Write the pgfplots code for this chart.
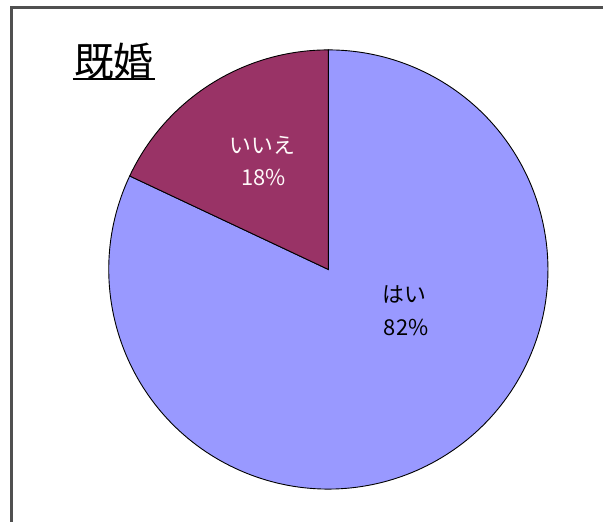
\documentclass[border=0pt]{standalone}
\usepackage{pgfplots}
\pgfplotsset{compat=1.18}
\usepackage{pgfplotstable}
\usepackage{fontspec}
\setmainfont{Noto Sans CJK JP}
\definecolor{hai}{HTML}{9999FF}
\definecolor{iie}{HTML}{993366}
\definecolor{framec}{HTML}{505050}

\pgfplotstableread{
label value
hai 82
iie 18
}\piedata

\begin{document}
\begin{tikzpicture}
\pgfplotstablegetelem{0}{value}\of\piedata \let\vhai\pgfplotsretval
\pgfplotstablegetelem{1}{value}\of\piedata \let\viie\pgfplotsretval
\pgfmathsetmacro\aiie{90+3.6*\viie}
\pgfmathsetmacro\ahai{\aiie+3.6*\vhai}
\path (0,0) rectangle (604bp,523bp);
\begin{axis}[x=1bp,y=1bp,xmin=0,xmax=604,ymin=0,ymax=523,hide axis,clip=false,anchor=origin,at={(0,0)}]
\filldraw[fill=hai, draw=black, line width=0.9bp] (axis cs:329,253) -- ++(\aiie:220bp) arc[start angle=\aiie, end angle=\ahai, radius=220bp] -- cycle;
\filldraw[fill=iie, draw=black, line width=0.9bp] (axis cs:329,253) -- ++(90:220bp) arc[start angle=90, end angle=\aiie, radius=220bp] -- cycle;
\node[font=\fontsize{22}{26}\selectfont, text=white!92!pink] at (axis cs:263,377) {いいえ};
\node[font=\fontsize{22}{26}\selectfont, text=white!92!pink] at (axis cs:264,345) {\viie\%};
\node[font=\fontsize{22}{26}\selectfont, text=black] at (axis cs:405,228) {はい};
\node[font=\fontsize{22}{26}\selectfont, text=black] at (axis cs:407,195) {\vhai\%};
\node[font=\fontsize{40}{48}\selectfont] at (axis cs:114,461) {既婚};
\draw[line width=2.2bp] (axis cs:73,444) -- (axis cs:155,444);
\draw[framec, line width=2.4bp] (axis cs:11.5,0) -- (axis cs:11.5,515.5) -- (axis cs:604,515.5);
\end{axis}
\end{tikzpicture}
\end{document}
